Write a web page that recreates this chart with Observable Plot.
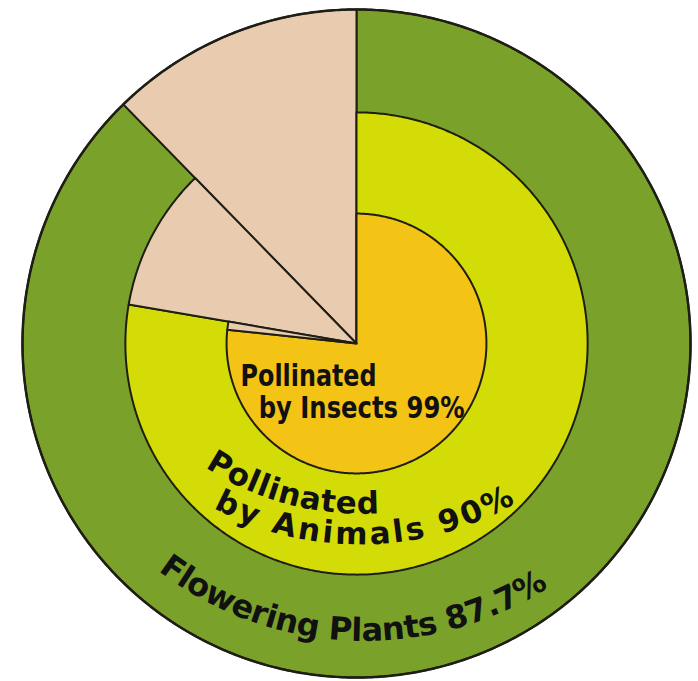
<!DOCTYPE html>
<html>
<head>
<meta charset="utf-8">
<script src="https://cdn.jsdelivr.net/npm/d3@7"></script>
<script src="https://cdn.jsdelivr.net/npm/@observablehq/plot@0.6"></script>
<style>
  html, body { margin: 0; padding: 0; background: #fff; }
  #chart svg { display: block; }
</style>
</head>
<body>
<div id="chart"></div>
<script>
// Nested shares: each ring is a share of the ring that surrounds it.
const groups = ["Flowering Plants", "Pollinated by Animals", "Pollinated by Insects"];
const shares = [87.7, 90, 99]; // percent
const curvedLabels = ["Flowering Plants 87.7%", "Pollinated", "by Animals 90%"];
const innerLabels = ["Pollinated", "by Insects 99%"];

// Styling
const ringColors = ["#7aa22b", "#d4dc08", "#f3c416"];
const remainderColor = "#e9cbb0";
const edge = "#1e1e14";

// Layout (plot units: 1 = outer radius)
const W = 698, H = 681;
const PX = 334;            // pixels per unit
const CX = 356, CY = 343;  // pixel position of the common centre
const radii = [1, 0.692, 0.389];

const xDomain = [-CX / PX, (W - CX) / PX];
const yDomain = [-(H - CY) / PX, CY / PX];

// Sector polygon; angles in degrees, counter-clockwise from 12 o'clock.
function sector(r, a0, a1) {
  const pts = [{x: 0, y: 0}];
  const n = Math.max(2, Math.ceil(Math.abs(a1 - a0) / 0.5));
  for (let i = 0; i <= n; i++) {
    const a = (a0 + (a1 - a0) * i / n) * Math.PI / 180;
    pts.push({x: -r * Math.sin(a), y: r * Math.cos(a)});
  }
  pts.push({x: 0, y: 0});
  return pts;
}

// Each remainder wedge starts where the wedge of the ring outside it ends.
const pieces = [];
let start = 0;
shares.forEach((s, i) => {
  const end = start + (100 - s) / 100 * 360;
  pieces.push({pts: sector(radii[i], end, 360), fill: ringColors[i]});
  pieces.push({pts: sector(radii[i], start, end), fill: remainderColor});
  start = end;
});

const rim = d3.range(0, 361, 0.5).map(a => ({
  x: -Math.sin(a * Math.PI / 180), y: Math.cos(a * Math.PI / 180)
}));

// Horizontal label inside the innermost disc (width = pixel width of the line)
const innerText = [
  {text: innerLabels[0], x: -0.347, y: -0.128, width: 136},
  {text: innerLabels[1], x: -0.293, y: -0.224, width: 206}
];

const plot = Plot.plot({
  width: W,
  height: H,
  margin: 0,
  x: {domain: xDomain, axis: null},
  y: {domain: yDomain, axis: null},
  marks: [
    ...pieces.map(p => Plot.line(p.pts, {
      x: "x", y: "y", fill: p.fill, stroke: edge, strokeWidth: 2, strokeLinejoin: "round"
    })),
    Plot.line(rim, {x: "x", y: "y", stroke: edge, strokeWidth: 2.5}),
    Plot.text(innerText, {
      x: "x", y: "y", text: "text", textAnchor: "start", lineAnchor: "bottom",
      fontSize: 30, fontWeight: "bold", fontFamily: "DejaVu Sans Condensed, DejaVu Sans",
      fill: "#111"
    })
  ]
});

document.getElementById("chart").appendChild(plot);

const svg = d3.select(plot);

// Narrow the inner label lines to their set widths
svg.selectAll("text").each(function () {
  const t = this.textContent;
  const d = innerText.find(e => e.text === t && !e.done);
  if (d) {
    d.done = true;
    this.setAttribute("textLength", d.width);
    this.setAttribute("lengthAdjust", "spacingAndGlyphs");
  }
});

// Text set along arcs across the two outer rings.
const sx = plot.scale("x"), sy = plot.scale("y");
const toX = sx.apply ? v => sx.apply(v) : d3.scaleLinear(sx.domain, sx.range);
const toY = sy.apply ? v => sy.apply(v) : d3.scaleLinear(sy.domain, sy.range);

// centre (plot units), radius, start/end angle measured from the bottom (degrees)
const arcs = [
  {text: curvedLabels[0], cx: 0.027, cy: 0.126, r: 1.018, a0: -37.5, a1: 32.6, size: 32},
  {text: curvedLabels[1], cx: 0.012, cy: 0.332, r: 0.843, a0: -33.4, a1: 4.0, size: 31},
  {text: curvedLabels[2], cx: 0.012, cy: 0.332, r: 0.935, a0: -28.0, a1: 30.4, size: 31}
];

const defs = svg.append("defs");
arcs.forEach((arc, i) => {
  const n = 120;
  const pts = d3.range(n + 1).map(k => {
    const a = (arc.a0 + (arc.a1 - arc.a0) * k / n) * Math.PI / 180;
    return [toX(arc.cx + arc.r * Math.sin(a)), toY(arc.cy - arc.r * Math.cos(a))];
  });
  let len = 0;
  for (let k = 1; k < pts.length; k++) len += Math.hypot(pts[k][0] - pts[k - 1][0], pts[k][1] - pts[k - 1][1]);
  const id = "ring-label-" + i;
  defs.append("path").attr("id", id).attr("d", "M" + pts.map(p => p.join(",")).join("L"));

  const label = svg.append("text")
    .attr("text-anchor", "start")
    .attr("font-family", "DejaVu Sans")
    .attr("font-weight", "bold")
    .attr("font-size", arc.size)
    .attr("fill", "#111");
  // spread the letters so the label fills its arc
  const natural = label.append("tspan").text(arc.text).node().getComputedTextLength();
  label.selectAll("*").remove();
  const spacing = (len - natural) / arc.text.length;
  label.attr("letter-spacing", spacing.toFixed(2))
    .append("textPath")
    .attr("href", "#" + id)
    .attr("startOffset", 0)
    .text(arc.text);
});
</script>
</body>
</html>
